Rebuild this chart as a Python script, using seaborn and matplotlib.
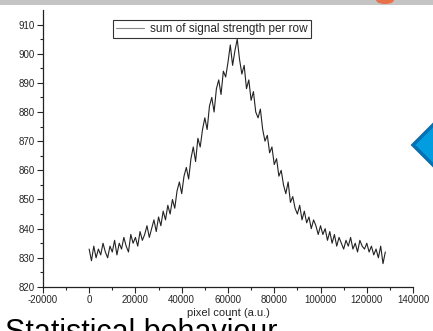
import matplotlib.pyplot as plt
import matplotlib.patches as mpatches
import pandas as pd
import seaborn as sns

# pixel position (a.u.), one sample every 1000
pixel_count = list(range(0, 129000, 1000))
signal_sum = [
    833, 829, 834, 830, 833, 831, 835, 832, 830, 834,
    832, 836, 831, 835, 833, 837, 834, 832, 838, 835,
    837, 834, 839, 836, 838, 841, 837, 840, 843, 839,
    844, 841, 846, 843, 848, 845, 850, 847, 853, 856,
    852, 858, 861, 857, 864, 868, 863, 871, 868, 874,
    878, 874, 882, 885, 880, 888, 891, 886, 894, 892,
    897, 903, 896, 901, 905, 898, 893, 896, 888, 891,
    884, 887, 880, 878, 881, 874, 870, 872, 866, 868,
    862, 864, 858, 860, 855, 852, 856, 849, 851, 847,
    845, 848, 843, 846, 842, 844, 840, 843, 841, 838,
    841, 838, 840, 836, 839, 835, 838, 834, 837, 835,
    833, 836, 834, 837, 833, 835, 832, 836, 834, 833,
    835, 832, 834, 831, 833, 830, 834, 828, 832,
]
x_ticks = list(range(-20000, 140001, 20000))
y_ticks = list(range(820, 911, 10))

df = pd.DataFrame({"pixel": pixel_count, "signal": signal_sum})

sns.set_style("ticks")
plt.rcParams["font.family"] = ["Liberation Sans", "DejaVu Sans"]

fig = plt.figure(figsize=(4.33, 3.31), dpi=100)
ax = fig.add_axes([0.099, 0.133, 0.855, 0.837])

sns.lineplot(data=df, x="pixel", y="signal", color="#222222", linewidth=0.8,
             label="sum of signal strength per row", ax=ax)

ax.set_xlim(-20000, 140000)
ax.set_ylim(820, 915)
ax.set_xticks(x_ticks)
ax.set_xticks(range(-10000, 140000, 20000), minor=True)
ax.set_yticks(y_ticks)
ax.set_yticks(range(825, 915, 10), minor=True)
ax.set_xticklabels([str(t) for t in x_ticks], fontsize=7)
ax.set_yticklabels([str(t) for t in y_ticks], fontsize=7)
ax.tick_params(which="major", length=4, width=0.8, direction="out", pad=2)
ax.tick_params(which="minor", length=2, width=0.8, direction="out")
ax.set_xlabel("pixel count (a.u.)", fontsize=8, labelpad=2)
ax.set_ylabel("")
sns.despine(ax=ax)
for s in ["left", "bottom"]:
    ax.spines[s].set_linewidth(0.9)
    ax.spines[s].set_color("#222222")

leg = ax.legend(loc="upper left", bbox_to_anchor=(0.189, 0.964), borderaxespad=0,
                fontsize=8.5, handlelength=2.4, fancybox=False, framealpha=1,
                borderpad=0.25, handletextpad=0.5)
leg.get_frame().set_edgecolor("#333333")
leg.get_frame().set_linewidth(0.8)
leg.get_lines()[0].set_color("#888888")

# slide decorations around the chart
fig.patches.append(mpatches.Rectangle((0, 1 - 5 / 331), 1, 5 / 331, transform=fig.transFigure,
                                      facecolor="#c4c4c4", edgecolor="none"))
fig.patches.append(mpatches.Ellipse((385 / 433, 1.0), 18 / 433, 8 / 331, transform=fig.transFigure,
                                    facecolor="#e8704a", edgecolor="none"))
fig.patches.append(mpatches.Polygon([(413 / 433, 1 - 145 / 331), (460 / 433, 1 - 98 / 331),
                                     (460 / 433, 1 - 192 / 331)], closed=True,
                                    transform=fig.transFigure, facecolor="#009ee0",
                                    edgecolor="#0072b5", linewidth=2.5))
fig.text(5 / 433, -0.03, "Statistical behaviour", fontsize=22, color="black",
         ha="left", va="baseline")

fig.savefig("out.png", dpi=100)
